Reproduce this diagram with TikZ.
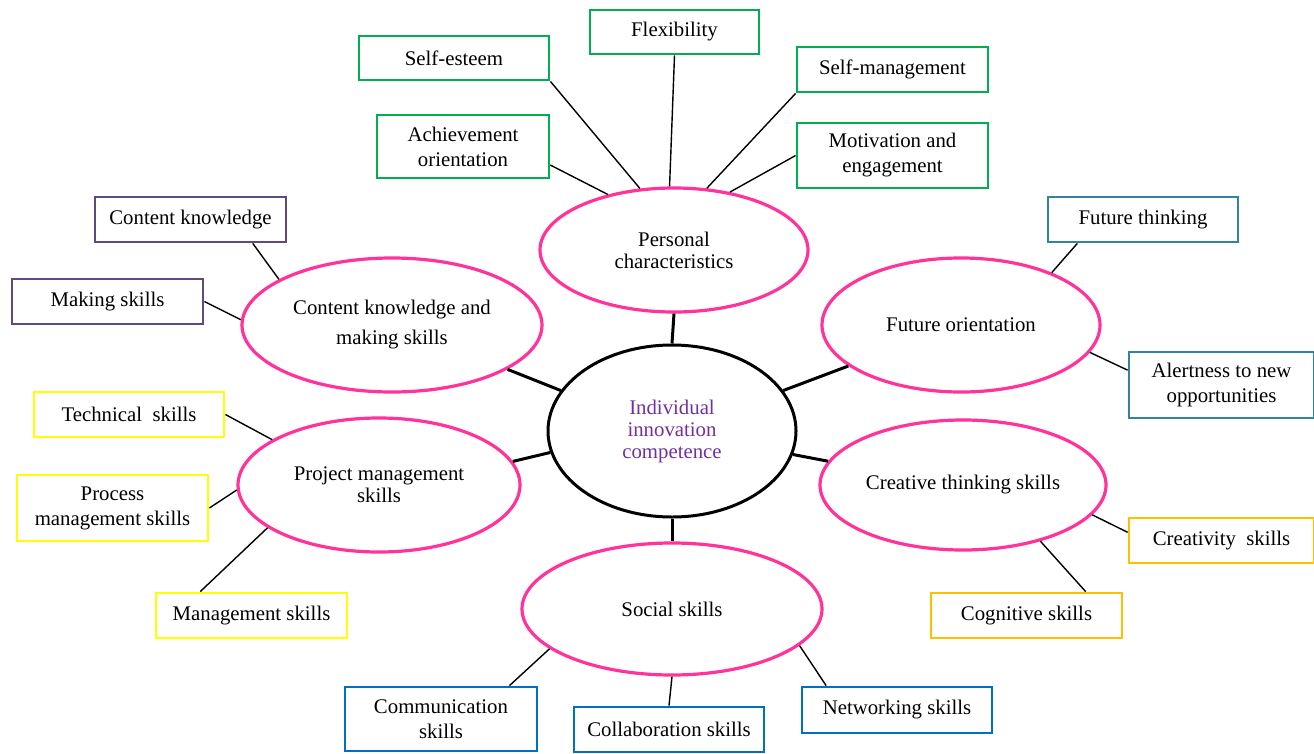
\documentclass[tikz,border=0pt]{standalone}
\usepackage{fontspec}
\setmainfont{Liberation Serif}
\usetikzlibrary{shapes.geometric}
\definecolor{pinkc}{HTML}{FF3399}
\definecolor{greenc}{HTML}{00B050}
\definecolor{purplec}{HTML}{604A7B}
\definecolor{tealc}{HTML}{31849B}
\definecolor{yellowc}{HTML}{FFFF00}
\definecolor{orangec}{HTML}{FFC000}
\definecolor{bluec}{HTML}{0070C0}
\definecolor{violetc}{HTML}{7030A0}
\begin{document}
\begin{tikzpicture}[x=1pt,y=-1pt,
  every node/.style={font=\fontsize{20.8}{25}\selectfont, align=center, text=black},
  oval/.style={ellipse, draw=pinkc, line width=3.2pt, inner sep=0pt},
  box/.style={rectangle, draw, line width=2.8pt, inner sep=0pt},
  leaf/.style={line width=1.4pt},
  hub/.style={line width=3pt}]
\useasboundingbox (0,0) rectangle (1314,753);
% centre
\node[ellipse, draw=black, line width=3pt, minimum width=248pt, minimum height=172pt, inner sep=0pt, text=violetc] (ce) at (672,431) {Individual\\[-3pt]innovation\\[-3pt]competence};
% pink ellipses
\node[oval, minimum width=268pt, minimum height=124pt] (pc) at (674,250) {Personal\\[-3pt]characteristics};
\node[oval, minimum width=300pt, minimum height=134pt] (ck) at (392,325) {Content knowledge and\\[5pt]making skills};
\node[oval, minimum width=278pt, minimum height=134pt] (fo) at (961,325) {Future orientation};
\node[oval, minimum width=282pt, minimum height=134pt] (pm) at (379,485) {Project management\\[-3pt]skills};
\node[oval, minimum width=286pt, minimum height=130pt] (ct) at (963,485) {Creative thinking skills};
\node[oval, minimum width=300pt, minimum height=132pt] (ss) at (672,609) {Social skills};
% green boxes
\node[box, draw=greenc, minimum width=190pt, minimum height=44pt] (se) at (454,58) {Self-esteem};
\node[box, draw=greenc, minimum width=169pt, minimum height=44pt] (fl) at (674.5,32) {Flexibility};
\node[box, draw=greenc, minimum width=191pt, minimum height=45pt] (sm) at (892.5,69.5) {Self-management};
\node[box, draw=greenc, minimum width=172pt, minimum height=63pt] (ac) at (463,146.5) {Achievement\\orientation};
\node[box, draw=greenc, minimum width=191pt, minimum height=65pt] (mo) at (892.5,155.5) {Motivation and\\engagement};
% purple
\node[box, draw=purplec, minimum width=191pt, minimum height=45pt] (ckb) at (190.5,219.5) {Content knowledge};
\node[box, draw=purplec, minimum width=191pt, minimum height=45pt] (ms) at (107.5,301.5) {Making skills};
% teal
\node[box, draw=tealc, minimum width=190pt, minimum height=45pt] (ft) at (1143,219.5) {Future thinking};
\node[box, draw=tealc, minimum width=185pt, minimum height=66pt] (al) at (1221.5,385) {Alertness to new\\opportunities};
% yellow
\node[box, draw=yellowc, minimum width=190pt, minimum height=45pt] (te) at (129,414.5) {Technical~~skills};
\node[box, draw=yellowc, minimum width=191pt, minimum height=66pt] (pr) at (112.5,508) {Process\\management skills};
\node[box, draw=yellowc, minimum width=191pt, minimum height=45pt] (mg) at (251.5,615.5) {Management skills};
% orange
\node[box, draw=orangec, minimum width=185pt, minimum height=45pt] (cr) at (1221.5,540.5) {Creativity~~skills};
\node[box, draw=orangec, minimum width=191pt, minimum height=45pt] (cg) at (1026.5,615.5) {Cognitive skills};
% blue
\node[box, draw=bluec, minimum width=192pt, minimum height=64pt] (cm) at (441,719) {Communication\\skills};
\node[box, draw=bluec, minimum width=190pt, minimum height=45pt] (co) at (669,729.5) {Collaboration skills};
\node[box, draw=bluec, minimum width=190pt, minimum height=46pt] (nw) at (897,710) {Networking skills};
% hub connectors
\draw[hub] (pc.south) -- (ce.north);
\draw[hub] (ck.-21) -- (ce.160);
\draw[hub] (fo.200) -- (ce.20);
\draw[hub] (pm.10) -- (ce.190);
\draw[hub] (ct.170) -- (ce.-11);
\draw[hub] (ss.north) -- (ce.south);
% leaf connectors
\draw[leaf] (se.south east) -- (pc.119);
\draw[leaf] (fl.south) -- (pc.94);
\draw[leaf] (sm.south west) -- (pc.62);
\draw[leaf] (ac.-12) -- (pc.140);
\draw[leaf] (mo.west) -- (pc.46);
\draw[leaf] (ckb.-21) -- (ck.158);
\draw[leaf] (ms.east) -- (ck.178);
\draw[leaf] (ft.200) -- (fo.30);
\draw[leaf] (al.171) -- (fo.-12);
\draw[leaf] (te.east) -- (pm.157);
\draw[leaf] (pr.east) -- (pm.182);
\draw[leaf] (mg.155) -- (pm.201);
\draw[leaf] (cr.175) -- (ct.-13);
\draw[leaf] (cg.22) -- (ct.-36);
\draw[leaf] (cm.26) -- (ss.198);
\draw[leaf] (co.north) -- (ss.south);
\draw[leaf] (nw.161) -- (ss.-16.5);
\end{tikzpicture}
\end{document}
